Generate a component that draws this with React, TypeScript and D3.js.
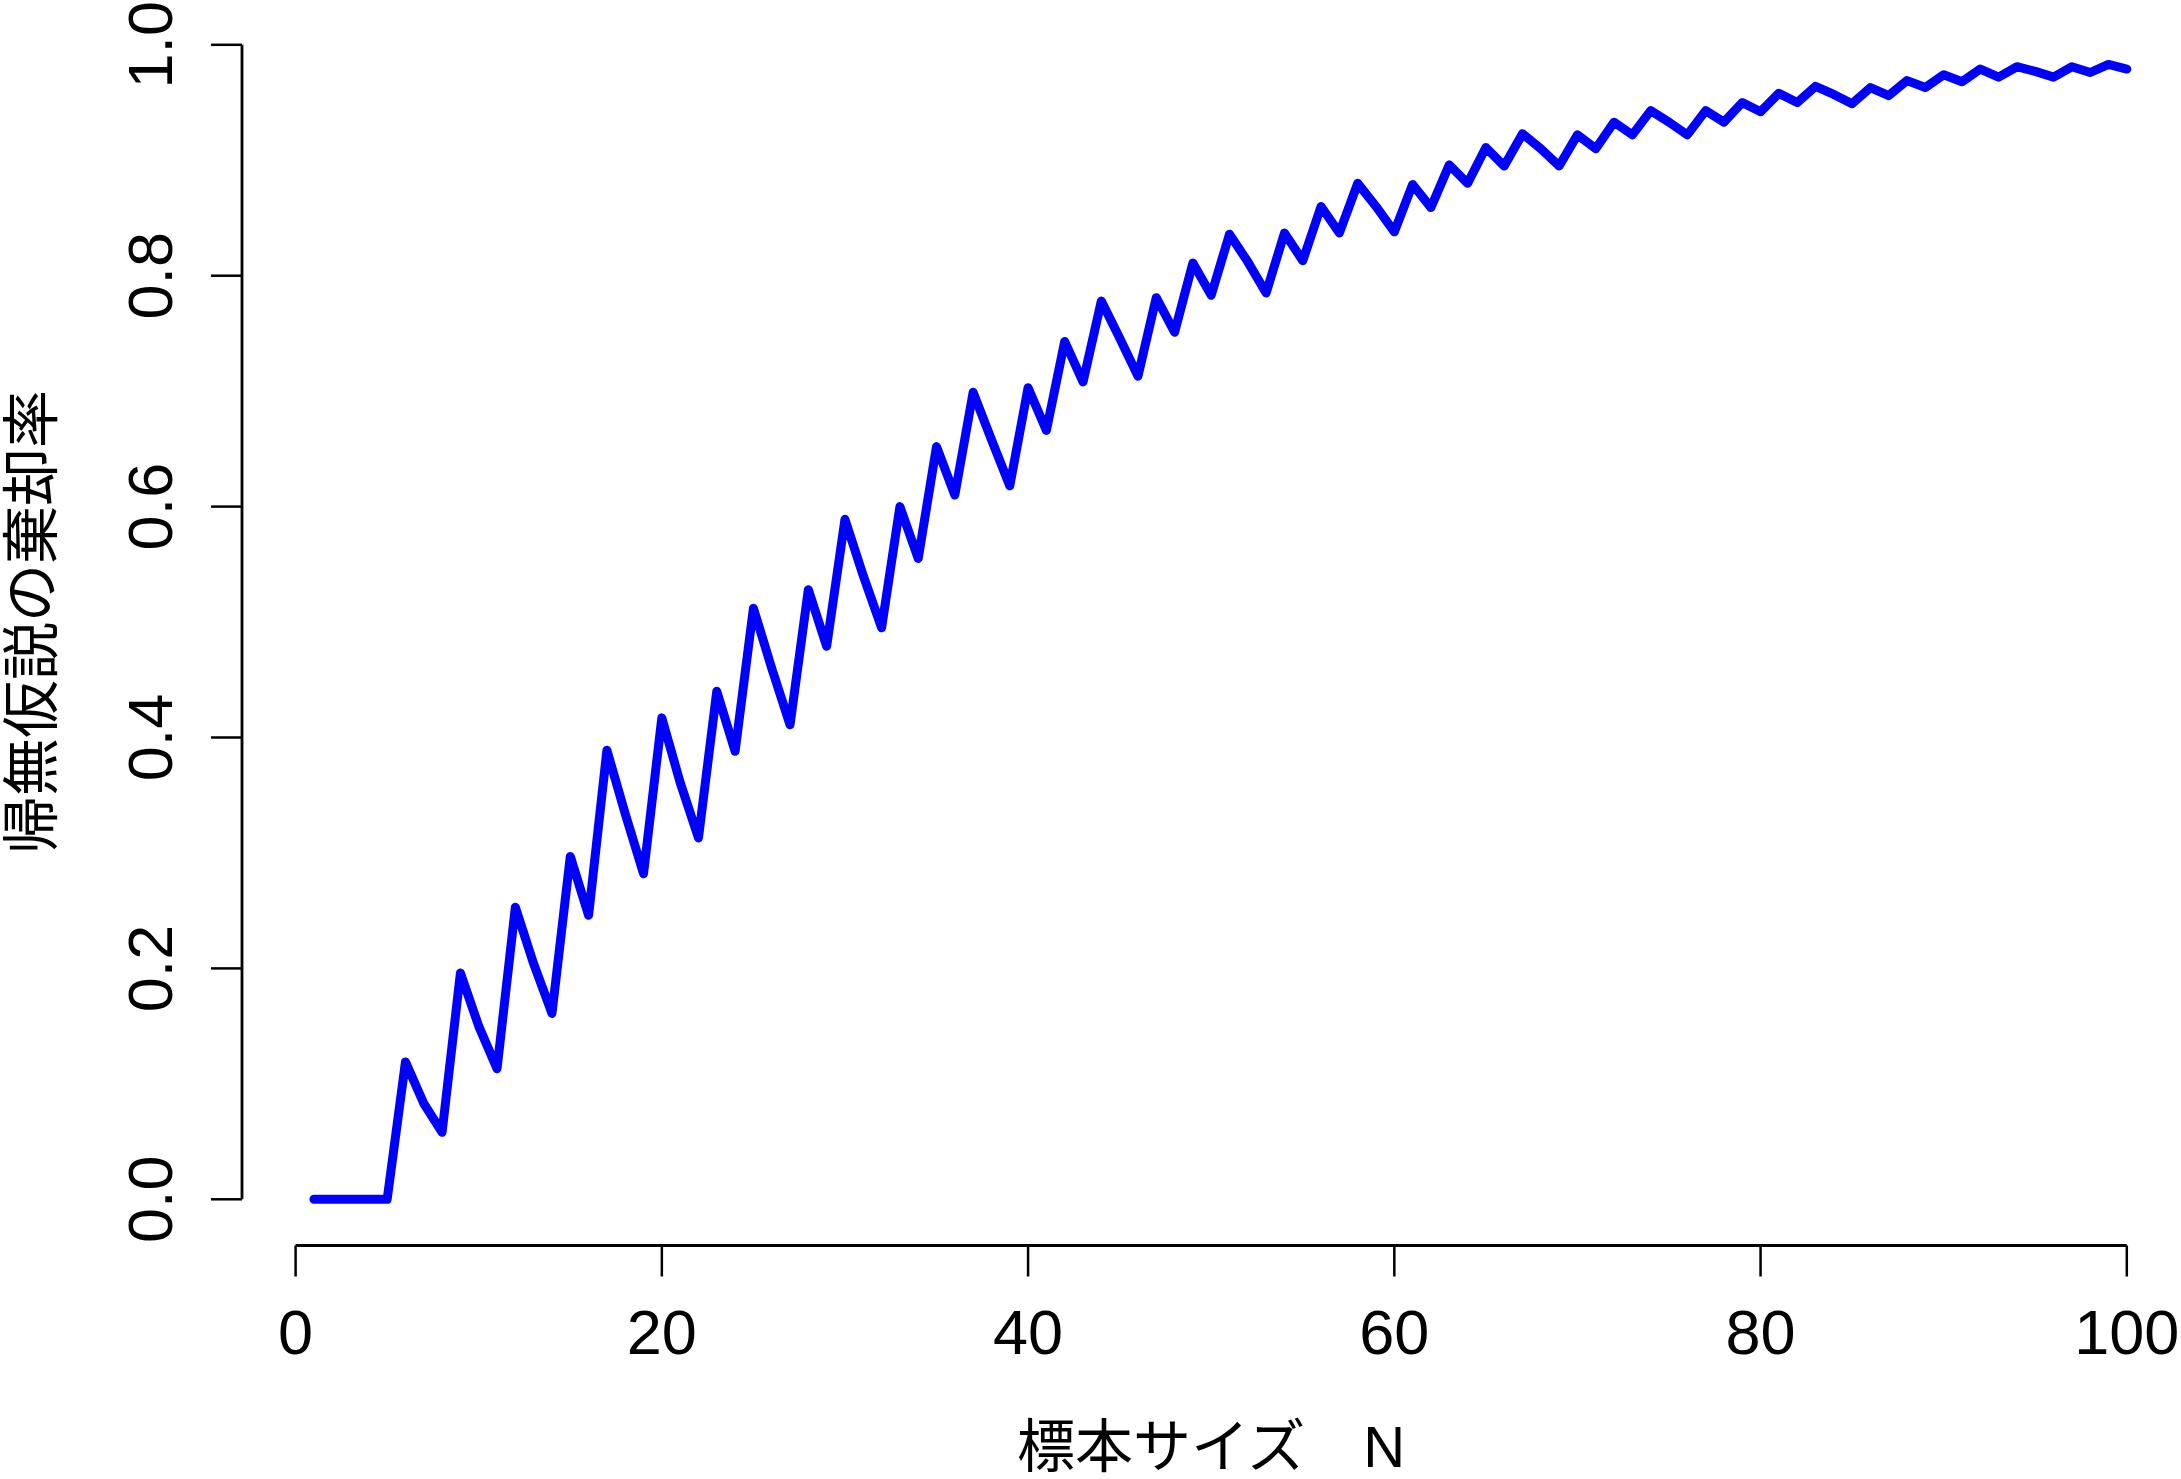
import React, { useEffect } from "react";
import * as d3 from "d3";

const sampleSizes: number[] = d3.range(1, 101);
const rejectionRates: number[] = [
  0, 0, 0, 0, 0, 0.119, 0.083, 0.058, 0.196, 0.150,
  0.113, 0.253, 0.204, 0.161, 0.297, 0.246, 0.389, 0.334, 0.282, 0.417,
  0.361, 0.313, 0.440, 0.388, 0.512, 0.460, 0.411, 0.528, 0.479, 0.589,
  0.540, 0.495, 0.600, 0.555, 0.652, 0.610, 0.699, 0.658, 0.618, 0.703,
  0.666, 0.743, 0.708, 0.778, 0.746, 0.713, 0.781, 0.751, 0.811, 0.783,
  0.836, 0.812, 0.785, 0.837, 0.813, 0.860, 0.837, 0.880, 0.860, 0.838,
  0.879, 0.859, 0.896, 0.880, 0.911, 0.895, 0.923, 0.910, 0.895, 0.922,
  0.910, 0.933, 0.922, 0.943, 0.933, 0.922, 0.943, 0.933, 0.950, 0.942,
  0.958, 0.950, 0.964, 0.957, 0.949, 0.963, 0.956, 0.969, 0.963, 0.974,
  0.968, 0.979, 0.972, 0.981, 0.977, 0.972, 0.981, 0.976, 0.983, 0.979,
];
const xTicks: number[] = [0, 20, 40, 60, 80, 100];
const yTicks: number[] = [0, 0.2, 0.4, 0.6, 0.8, 1.0];
const xLabel = "標本サイズ　N";
const yLabel = "帰無仮説の棄却率";

const W = 2181;
const H = 1479;

export default function App() {
  useEffect(() => {
    document.body.style.margin = "0";
  }, []);

  const x = d3.scaleLinear().domain([0, 100]).range([295.6, 2126.8]);
  const y = d3.scaleLinear().domain([0, 1]).range([1199.3, 44.8]);
  const line = d3
    .line<number>()
    .x((_, i) => x(sampleSizes[i]))
    .y((d) => y(d));

  const axisY = 1245.5;
  const axisX = 242;
  const tickLen = 31;
  const fontNum = "'Liberation Sans', Arial, Helvetica, sans-serif";
  const fontJp = "'Liberation Sans', 'Noto Sans CJK JP', sans-serif";

  return (
    <svg width={W} height={H} style={{ display: "block", background: "#fff" }}>
      <rect x={0} y={0} width={W} height={H} fill="#fff" />
      {/* data line */}
      <path
        d={line(rejectionRates) || ""}
        fill="none"
        stroke="#0000ff"
        strokeWidth={9}
        strokeLinejoin="round"
        strokeLinecap="round"
      />
      {/* x axis */}
      <line x1={x(0)} x2={x(100)} y1={axisY} y2={axisY} stroke="#000" strokeWidth={2.8} />
      {xTicks.map((t) => (
        <g key={"xt" + t}>
          <line x1={x(t)} x2={x(t)} y1={axisY} y2={axisY + tickLen} stroke="#000" strokeWidth={2.5} />
          <text
            x={x(t)}
            y={1354}
            textAnchor="middle"
            fontFamily={fontNum}
            fontSize={63}
            fill="#000"
          >
            {t}
          </text>
        </g>
      ))}
      {/* y axis */}
      <line x1={axisX} x2={axisX} y1={y(0)} y2={y(1)} stroke="#000" strokeWidth={2.8} />
      {yTicks.map((t) => (
        <g key={"yt" + t}>
          <line x1={axisX} x2={axisX - tickLen} y1={y(t)} y2={y(t)} stroke="#000" strokeWidth={2.5} />
          <text
            transform={`translate(172, ${y(t)}) rotate(-90)`}
            textAnchor="middle"
            fontFamily={fontNum}
            fontSize={63}
            fill="#000"
          >
            {t.toFixed(1)}
          </text>
        </g>
      ))}
      {/* axis titles */}
      <text
        x={(x(0) + x(100)) / 2}
        y={1467}
        textAnchor="middle"
        fontFamily={fontJp}
        fontSize={58}
        fill="#000"
      >
        {xLabel}
      </text>
      <text
        transform={`translate(52, ${(y(0) + y(1)) / 2}) rotate(-90)`}
        textAnchor="middle"
        fontFamily={fontJp}
        fontSize={58}
        fill="#000"
      >
        {yLabel}
      </text>
    </svg>
  );
}
